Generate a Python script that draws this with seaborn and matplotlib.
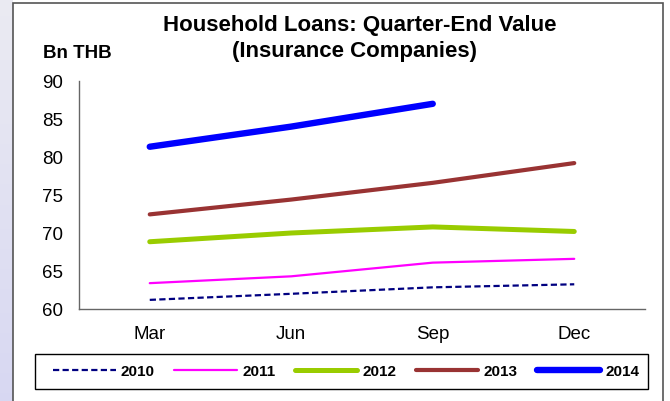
import numpy as np
import pandas as pd
import seaborn as sns
import matplotlib.pyplot as plt
from matplotlib.patches import Rectangle

quarters = ["Mar", "Jun", "Sep", "Dec"]
years = ["2010", "2011", "2012", "2013", "2014"]
v2010 = [61.2, 62.0, 62.85, 63.25]
v2011 = [63.4, 64.3, 66.1, 66.6]
v2012 = [68.85, 70.0, 70.8, 70.2]
v2013 = [72.45, 74.4, 76.6, 79.2]
v2014 = [81.35, 84.0, 87.0]

colors = ["#000080", "#FF00FF", "#99CC00", "#993333", "#0000FF"]
widths = [1.6, 1.6, 3.6, 3.0, 4.6]
styles = [(0, (2.8, 1.5)), "-", "-", "-", "-"]

sns.set_style("white")
plt.rcParams["font.family"] = ["Liberation Sans", "DejaVu Sans"]
plt.rcParams["text.color"] = "black"
plt.rcParams["xtick.color"] = "black"
plt.rcParams["ytick.color"] = "black"

fig = plt.figure(figsize=(6.7, 4.01), dpi=100)
ax = fig.add_axes([79 / 670, 1 - 309 / 401, (645 - 79) / 670, (309 - 81) / 401])

# faint slide background on the left
bg = fig.add_axes([0, 0, 13 / 670, 1])
grad = np.linspace(0, 1, 100).reshape(-1, 1)
bg.imshow(grad, aspect="auto", cmap=sns.light_palette("#d4d4f2", as_cmap=True),
          extent=[0, 1, 0, 1], vmin=-0.3, vmax=1.2)
bg.axis("off")
fig.patches.append(Rectangle((13 / 670, -0.05), (663 - 13) / 670, 1.05 - 3 / 401,
                             transform=fig.transFigure, fill=False,
                             edgecolor="#555555", linewidth=1.2))

all_vals = [v2010, v2011, v2012, v2013, v2014]
for yr, vals, c, lw, ls in zip(years, all_vals, colors, widths, styles):
    df = pd.DataFrame({"Quarter": list(range(len(vals))), "Value": vals})
    sns.lineplot(data=df, x="Quarter", y="Value", ax=ax, color=c, linewidth=lw,
                 linestyle=ls, label=yr, solid_capstyle="round",
                 dash_capstyle="butt")

ax.set_xlim(-0.5, 3.5)
ax.set_ylim(60, 90)
ax.set_yticks(range(60, 91, 5))
ax.set_xticks(np.arange(-0.5, 3.6, 1))
ax.set_xticklabels([])
ax.set_xticks(range(4), minor=True)
ax.set_xticklabels(quarters, minor=True)
ax.tick_params(axis="x", which="minor", length=0, pad=12, labelsize=13.5)
ax.tick_params(axis="x", which="major", length=5, direction="out", color="#666666", width=1)
ax.tick_params(axis="y", length=4.5, direction="out", color="#666666", width=1,
               labelsize=13.5, pad=7)
ax.set_xlabel("")
ax.set_ylabel("")
for s in ["top", "right"]:
    ax.spines[s].set_visible(False)
for s in ["left", "bottom"]:
    ax.spines[s].set_color("#666666")
    ax.spines[s].set_linewidth(1)

fig.text(360 / 670, 1 - 26 / 401, "Household Loans: Quarter-End Value",
         ha="center", va="center", fontsize=16, fontweight="bold")
fig.text(355 / 670, 1 - 51 / 401, "(Insurance Companies)",
         ha="center", va="center", fontsize=16, fontweight="bold")
fig.text(43 / 670, 1 - 53 / 401, "Bn THB", ha="left", va="center",
         fontsize=13.5, fontweight="bold")

# legend box drawn separately so entries can sit inside it like the original
fig.patches.append(Rectangle((35 / 670, 1 - 389 / 401), 613 / 670, 35 / 401,
                             transform=fig.transFigure, fill=False,
                             edgecolor="black", linewidth=1.0))
ax.legend_.remove()
handles, labels = ax.get_legend_handles_labels()
leg = fig.legend(handles, labels, ncol=5, loc="center", mode="expand",
                 bbox_to_anchor=(53 / 670, 1 - 389 / 401, 586 / 670, 35 / 401),
                 frameon=False, prop={"weight": "bold", "size": 11},
                 handlelength=4.1, handletextpad=0.35, columnspacing=1.3,
                 borderpad=0, borderaxespad=0)

fig.savefig("out.png", dpi=100, facecolor="white")
